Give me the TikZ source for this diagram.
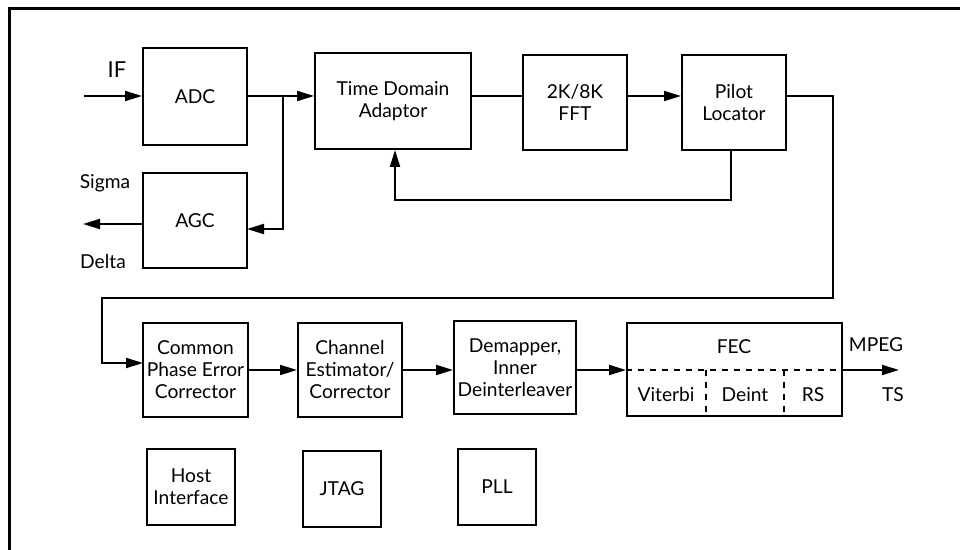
\documentclass[tikz,border=0pt]{standalone}
\usepackage{fontspec}
\setmainfont{Lato}
\usetikzlibrary{arrows.meta,calc}
\tikzstyle{block}=[
        draw,
        line width = 1pt,
        fill = white,
        align = center,
        inner sep = 1pt,
        font = \fontsize{9.6}{11}\selectfont
    ]
\tikzstyle{flow}=[
    line width = 1pt,
    -{Triangle[length = 8.5pt, width = 5pt]}
]
\tikzstyle{sigtext}=[
    inner sep = 0pt,
    font = \fontsize{9.6}{11}\selectfont
]

\begin{document}
\begin{tikzpicture}[x = 0.5pt, y = -0.5pt, wire/.style = {line width = 1pt}]
        \useasboundingbox (0,0) rectangle (960,550);

        % frame
        \coordinate (ftl) at (9,9);
        \draw[line width = 1.5pt] (ftl -| 960,0) -- (ftl) -- (ftl |- 0,550);

        % front end
        \node[block, minimum width = 52pt, minimum height = 48.5pt] (adc) at (195,96.5) {ADC};
        \node[block, minimum width = 52pt, minimum height = 47.5pt] (agc) at (195,220.5) {AGC};
        \node[block, minimum width = 78pt, minimum height = 48pt] (tda) at (393,101) {Time Domain\\Adaptor};
        \node[block, minimum width = 52pt, minimum height = 47.5pt] (fft) at (575,102.5) {2K/8K\\FFT};
        \node[block, minimum width = 52pt, minimum height = 47.5pt] (pilot) at (734,102.5) {Pilot\\Locator};

        % back end
        \node[block, minimum width = 52.5pt, minimum height = 47pt] (cpe) at (195.5,370) {Common\\Phase Error\\Corrector};
        \node[block, minimum width = 52pt, minimum height = 47pt] (chan) at (350,370) {Channel\\Estimator/\\Corrector};
        \node[block, minimum width = 61pt, minimum height = 46.5pt] (demap) at (515,367.5) {Demapper,\\Inner\\Deinterleaver};
        \node[block, minimum width = 107.5pt, minimum height = 46.5pt] (fec) at (734.5,370) {};

        % support blocks
        \node[block, minimum width = 44pt, minimum height = 38pt] (host) at (191,487) {Host\\Interface};
        \node[block, minimum width = 39pt, minimum height = 38pt] (jtag) at (342,489) {JTAG};
        \node[block, minimum width = 39pt, minimum height = 38pt] (pll) at (497,487) {PLL};

        % FEC inside
        \draw[wire, dashed] (fec.west) -- (fec.east);
        \draw[wire, dashed] ($(fec.west)!0.367!(fec.east)$) -- ($(fec.south west)!0.367!(fec.south east)$);
        \draw[wire, dashed] ($(fec.west)!0.730!(fec.east)$) -- ($(fec.south west)!0.730!(fec.south east)$);
        \node[sigtext] (fect) at (734,347) {FEC};
        \node[sigtext] (vit) at (666,395) {Viterbi};
        \node[sigtext] (dint) at (745,395) {Deint};
        \node[sigtext] (rs) at (813,395) {RS};

        % signal names
        \node[sigtext, font = \fontsize{11}{12}\selectfont] (iftext) at (117,70) {IF};
        \node[sigtext] (sigma) at (105,183) {Sigma};
        \node[sigtext] (delta) at (103,262) {Delta};
        \node[sigtext] (mpeg) at (876,345) {MPEG};
        \node[sigtext] (ts) at (893,395) {TS};

        % wires
        \coordinate (ifin) at (84,96);
        \coordinate (br) at (283,96);
        \coordinate (agcin) at (247,229);
        \coordinate (sigout) at (83,224);
        \coordinate (fb1) at (731,200);
        \coordinate (fb2) at (395,200);
        \coordinate (up1) at (833,298);
        \coordinate (up2) at (102,298);
        \coordinate (cpein) at (143,363);
        \coordinate (tsout) at (899,370);

        \draw[flow] (ifin) -- (ifin -| adc.west);
        \draw[flow] (ifin -| adc.east) -- (ifin -| tda.west);
        \draw[flow] (br) |- (agcin);
        \draw[flow] (sigout -| agc.west) -- (sigout);
        \draw[wire] (ifin -| tda.east) -- (ifin -| fft.west);
        \draw[flow] (ifin -| fft.east) -- (ifin -| pilot.west);
        \draw[flow] (fb1 |- pilot.south) -- (fb1) -- (fb2) -- (fb2 |- tda.south);
        \draw[flow] (ifin -| pilot.east) -| (up1) -- (up2) |- (cpein);
        \draw[flow] (cpe.east) -- (chan.west);
        \draw[flow] (chan.east) -- (chan.east -| demap.west);
        \draw[flow] (fec.west -| demap.east) -- (fec.west);
        \draw[flow] (fec.east) -- (tsout);

    \end{tikzpicture}
\end{document}
